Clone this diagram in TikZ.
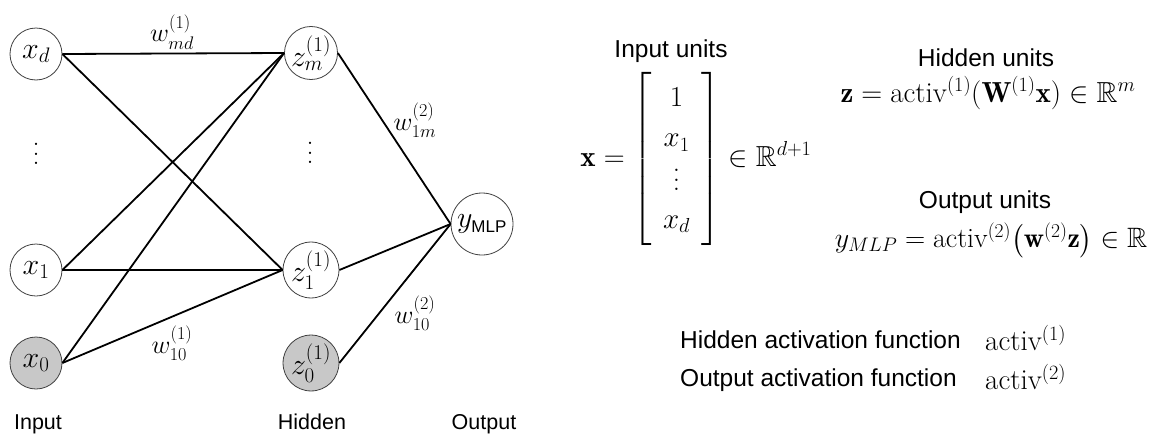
\RequirePackage{fix-cm}
\documentclass[tikz,border=0pt]{standalone}
\usepackage{amsmath,amssymb}
\usepackage{fontspec}
\newfontfamily\sfont{Liberation Sans}
\newcommand\mfs{\fontsize{29}{35}\selectfont}
\newcommand\cfs{\fontsize{30}{36}\selectfont}
\newcommand\wfs{\fontsize{26}{31}\selectfont}
\newcommand\tfs{\sfont\fontsize{24.5}{29}\selectfont}
\newcommand\bfs{\sfont\fontsize{21.5}{26}\selectfont}
\newcommand\bigvdots{\vbox{\baselineskip=9.5pt \lineskiplimit=0pt \hbox{.}\hbox{.}\hbox{.}}}
\definecolor{nodegray}{RGB}{200,200,200}
\tikzset{
  neuron/.style={circle, draw=black!75, line width=0.8pt, minimum size=52pt, inner sep=0pt, fill=white, font=\cfs},
  biasneuron/.style={neuron, fill=nodegray},
  edge/.style={line width=1.8pt, black},
  lbl/.style={font=\tfs, inner sep=0pt},
  layerlbl/.style={font=\bfs, inner sep=0pt, anchor=base},
  mth/.style={font=\mfs, inner sep=0pt},
  wlbl/.style={font=\wfs, inner sep=0pt},
  dotsn/.style={font=\fontsize{28}{30}\selectfont, inner sep=0pt},
}
\begin{document}
\begin{tikzpicture}[x=1pt,y=-1pt]
\useasboundingbox (0,0) rectangle (1153,434);
% input layer
\node[neuron] (xd) at (36,54) {$x_d$};
\node[neuron] (x1) at (36,270) {$x_1$};
\node[biasneuron] (x0) at (36,363) {$x_0$};
\node[dotsn] (xdots) at (36,154) {\bigvdots};
% hidden layer
\node[neuron] (zm) at (311,53) {$z_m^{(1)}$};
\node[neuron] (z1) at (311,270) {$z_1^{(1)}$};
\node[biasneuron] (z0) at (311,363) {$z_0^{(1)}$};
\node[dotsn] (zdots) at (310,153) {\bigvdots};
% output
\node[neuron, minimum size=62pt] (y) at (482,224) {$y_{\text{\sfont\fontsize{17}{20}\selectfont MLP}}$};
% edges
\draw[edge] (xd.east) -- (zm.west);
\draw[edge] (xd.east) -- (z1.west);
\draw[edge] (x1.east) -- (zm.west);
\draw[edge] (x1.east) -- (z1.west);
\draw[edge] (x0.east) -- (zm.west);
\draw[edge] (x0.east) -- (z1.west);
\draw[edge] (zm.east) -- (y.west);
\draw[edge] (z1.east) -- (y.west);
\draw[edge] (z0.east) -- (y.west);
% weight labels
\node[wlbl] (wmd) at (172,32) {$w_{md}^{(1)}$};
\node[wlbl] (w10a) at (172,343) {$w_{10}^{(1)}$};
\node[wlbl] (w1m) at (415,120) {$w_{1m}^{(2)}$};
\node[wlbl] (w10b) at (415,313) {$w_{10}^{(2)}$};
% layer labels
\node[layerlbl] (linput) at (38,429) {Input};
\node[layerlbl] (lhidden) at (312,429) {Hidden};
\node[layerlbl] (loutput) at (484,429) {Output};
% right side
\node[lbl] (inunits) at (671,51) {Input units};
\node[mth] (xvec) at (696,159) {\renewcommand{\arraystretch}{1.16}$\mathbf{x} = \left[\begin{array}{@{\hspace{11pt}}c@{\hspace{11pt}}} 1 \\ x_1 \\ \vcenter{\bigvdots} \\ x_d \end{array}\right] \in \mathbb{R}^{d+1}$};
\node[lbl] (hidunits) at (986,58) {Hidden units};
\node[mth] (zeq) at (988,93) {$\mathbf{z} = \mathrm{activ}^{(1)}(\mathbf{W}^{(1)}\mathbf{x}) \in \mathbb{R}^m$};
\node[lbl] (outunits) at (985,202) {Output units};
\node[mth, font=\fontsize{28}{34}\selectfont] (yeq) at (991,240) {$y_{MLP} = \mathrm{activ}^{(2)}\big(\mathbf{w}^{(2)}\mathbf{z}\big) \in \mathbb{R}$};
\node[lbl, anchor=west] (hact) at (680,340) {Hidden activation function};
\node[mth, anchor=west] (hactf) at (985,338) {$\mathrm{activ}^{(1)}$};
\node[lbl, anchor=west] (oact) at (680,380) {Output activation function};
\node[mth, anchor=west] (oactf) at (985,377) {$\mathrm{activ}^{(2)}$};
\end{tikzpicture}
\end{document}
